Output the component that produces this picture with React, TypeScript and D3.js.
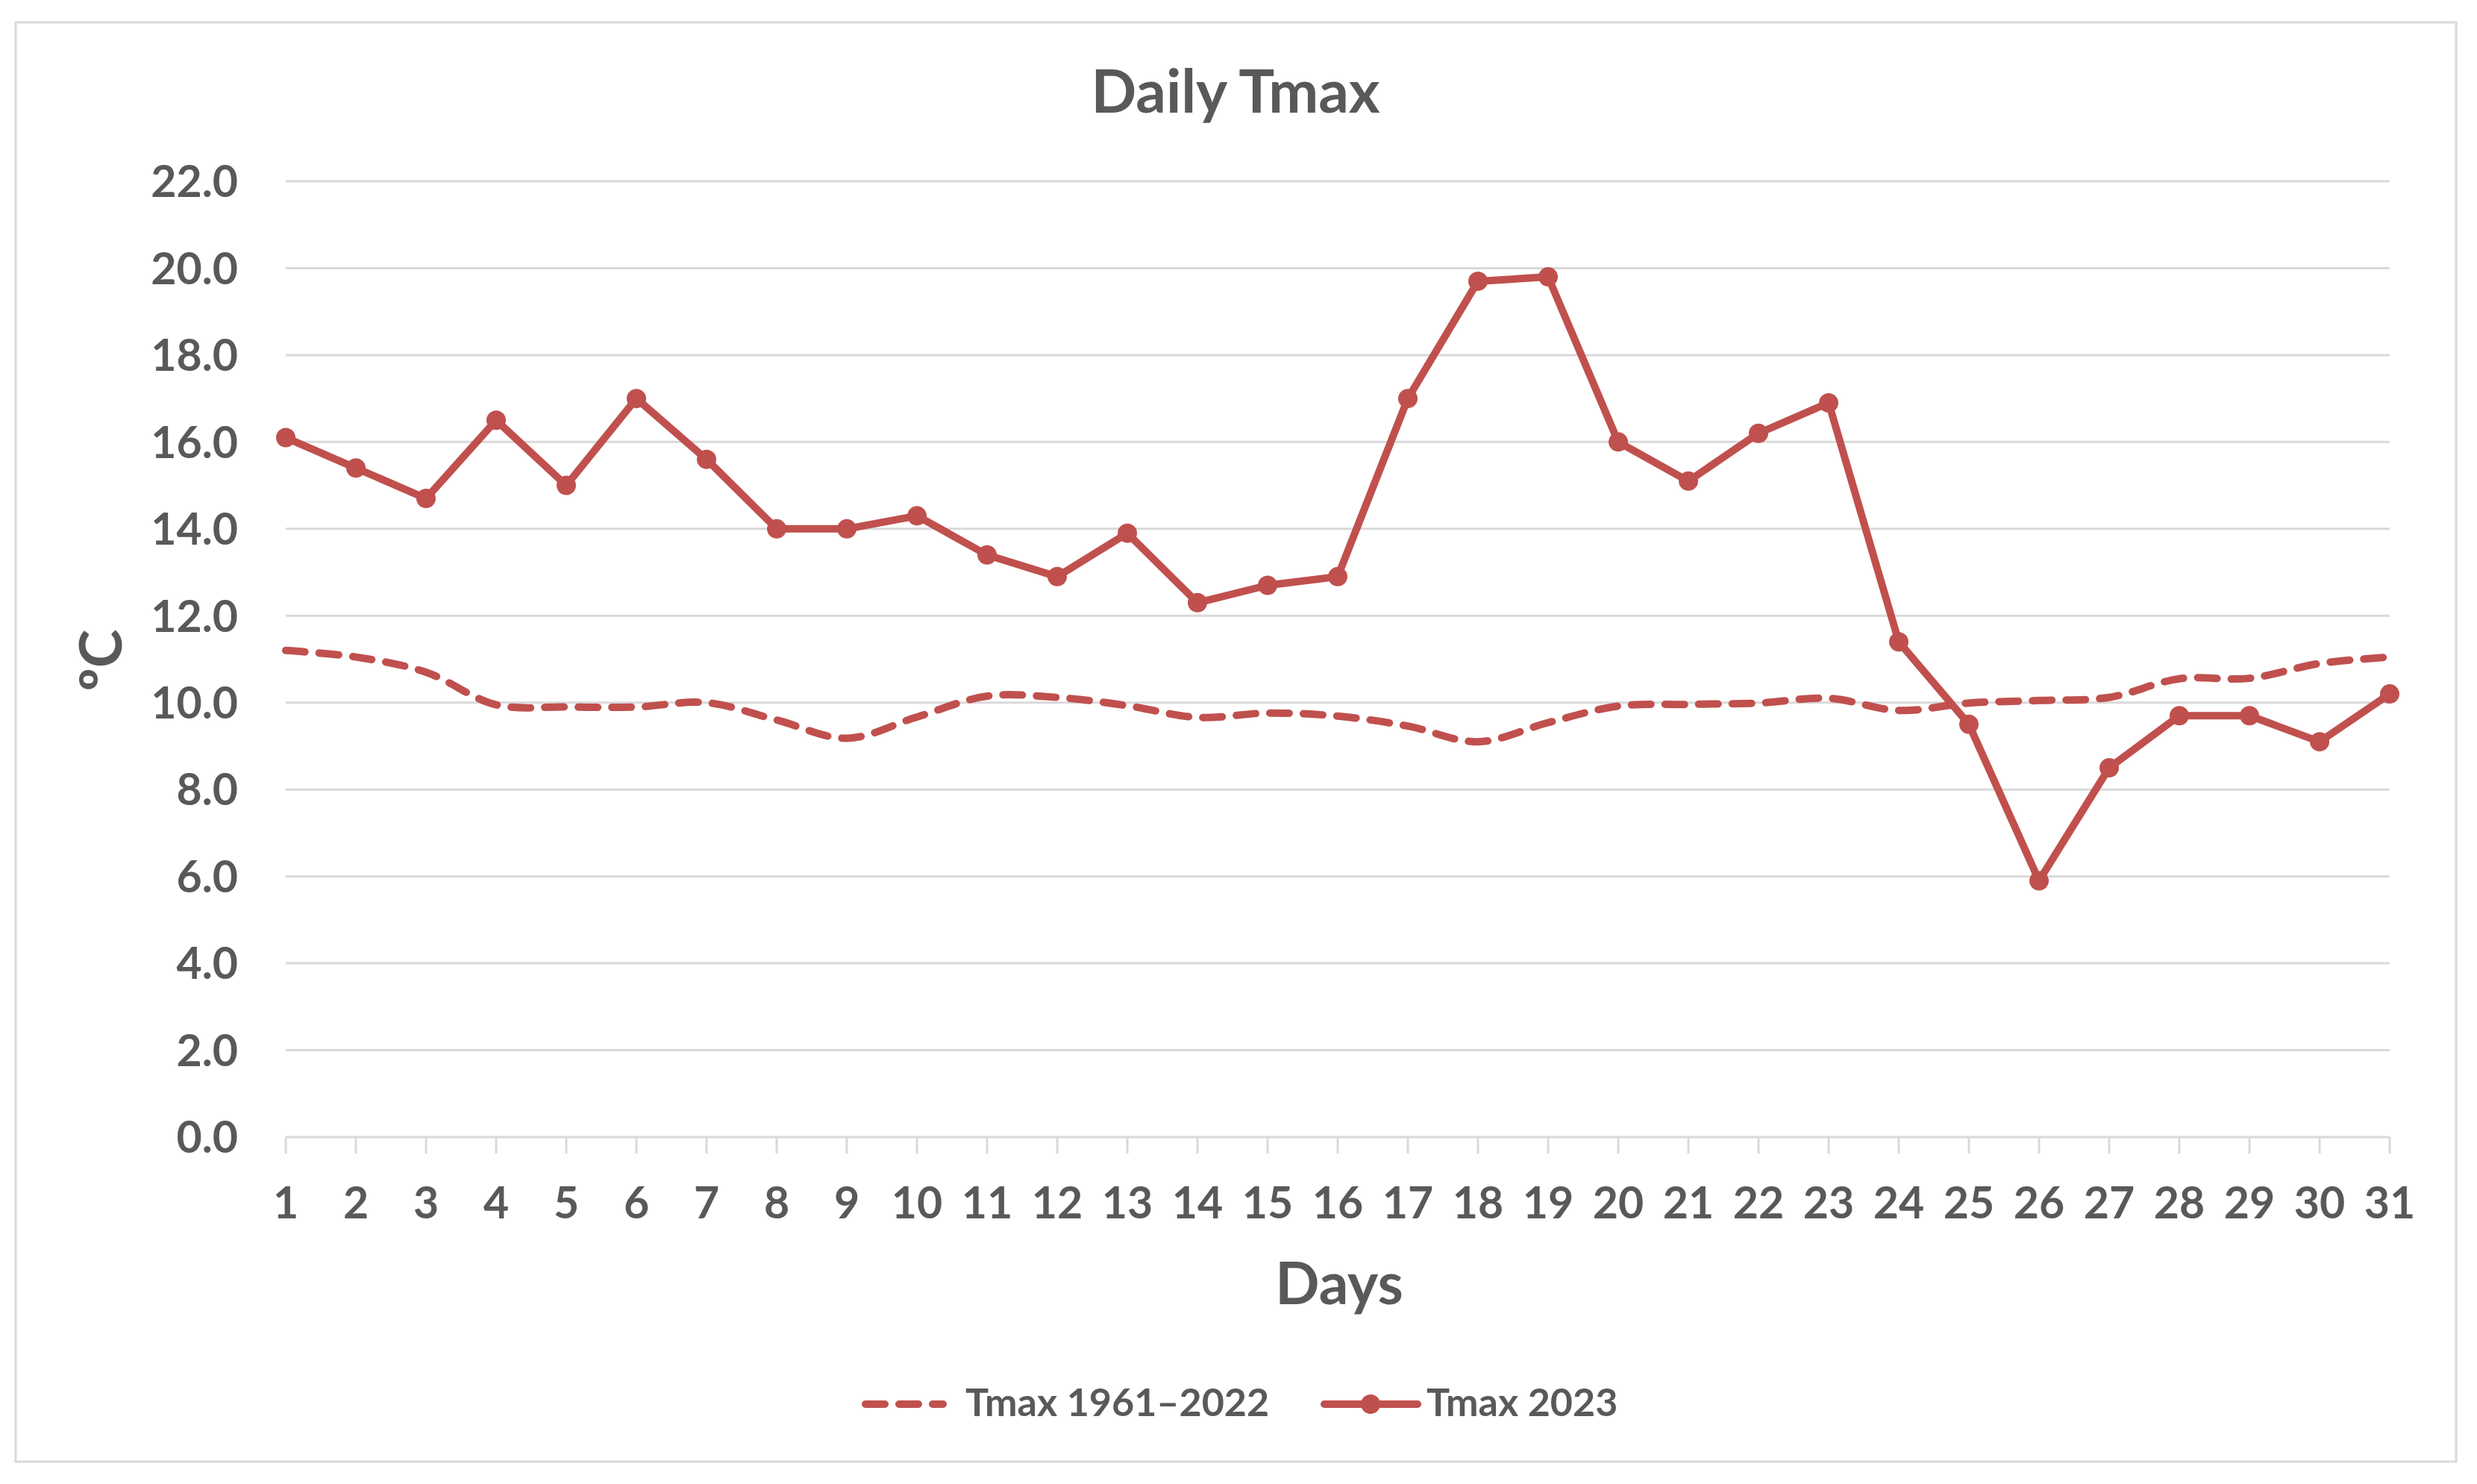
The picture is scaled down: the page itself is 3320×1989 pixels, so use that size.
import React from "react";
import * as d3 from "d3";

const days: number[] = Array.from({ length: 31 }, (_, i) => i + 1);
const tmax2023: number[] = [
  16.1, 15.4, 14.7, 16.5, 15.0, 17.0, 15.6, 14.0, 14.0, 14.3, 13.4, 12.9, 13.9, 12.3, 12.7, 12.9,
  17.0, 19.7, 19.8, 16.0, 15.1, 16.2, 16.9, 11.4, 9.5, 5.9, 8.5, 9.7, 9.7, 9.1, 10.2,
];
const tmaxClim: number[] = [
  11.2, 11.05, 10.7, 9.95, 9.9, 9.9, 10.0, 9.6, 9.18, 9.67, 10.15, 10.12, 9.93, 9.66, 9.76, 9.69,
  9.46, 9.1, 9.54, 9.92, 9.96, 9.99, 10.1, 9.82, 9.99, 10.05, 10.12, 10.55, 10.56, 10.9, 11.05,
];
const yTicks: number[] = [0, 2, 4, 6, 8, 10, 12, 14, 16, 18, 20, 22];
const titleText = "Daily Tmax";
const xTitle = "Days";
const yTitle = "ºC";
const legendLabels = ["Tmax 1961–2022", "Tmax 2023"];

const W = 3320;
const H = 1989;
const RED = "#C0504D";
const TEXT = "#595959";
const GRID = "#D9D9D9";
const FONT = "Lato, 'Open Sans', sans-serif";

export default function App() {
  const x = d3.scaleLinear().domain([1, 31]).range([383, 3203]);
  const y = d3.scaleLinear().domain([0, 22]).range([1524, 243]);

  const solidLine = d3
    .line<number>()
    .x((_, i) => x(days[i]))
    .y((d) => y(d));
  const smoothLine = d3
    .line<number>()
    .x((_, i) => x(days[i]))
    .y((d) => y(d))
    .curve(d3.curveCatmullRom.alpha(0.5));

  return (
    <svg
      width={W}
      height={H}
      style={{ position: "absolute", left: 0, top: 0, background: "#fff" }}
      fontFamily={FONT}
    >
      <rect x={0} y={0} width={W} height={H} fill="#fff" />
      <rect x={21} y={30} width={3271} height={1929} fill="none" stroke={GRID} strokeWidth={3} />

      <text x={1656} y={151} textAnchor="middle" fontSize={80} fontWeight={700} fill={TEXT}>
        {titleText}
      </text>

      {yTicks.filter((t) => t > 0).map((t) => (
        <line key={t} x1={x(1)} x2={x(31)} y1={y(t)} y2={y(t)} stroke={GRID} strokeWidth={3} />
      ))}
      {yTicks.map((t) => (
        <text
          key={"yl" + t}
          x={319}
          y={y(t)}
          dy="0.36em"
          textAnchor="end"
          fontSize={59}
          fontWeight={700}
          fill={TEXT}
        >
          {t.toFixed(1)}
        </text>
      ))}

      <line x1={x(1)} x2={x(31)} y1={y(0)} y2={y(0)} stroke={GRID} strokeWidth={3} />
      {days.map((d) => (
        <g key={"xt" + d}>
          <line x1={x(d)} x2={x(d)} y1={y(0)} y2={y(0) + 22} stroke={GRID} strokeWidth={3} />
          <text x={x(d)} y={1633} textAnchor="middle" fontSize={59} fontWeight={700} fill={TEXT}>
            {d}
          </text>
        </g>
      ))}

      <text x={1795} y={1748} textAnchor="middle" fontSize={78} fontWeight={700} fill={TEXT}>
        {xTitle}
      </text>
      <text
        transform="translate(163,885) rotate(-90)"
        textAnchor="middle"
        fontSize={78}
        fontWeight={700}
        fill={TEXT}
      >
        {yTitle}
      </text>

      <path
        d={smoothLine(tmaxClim) || ""}
        fill="none"
        stroke={RED}
        strokeWidth={10}
        strokeDasharray="26 19"
        strokeLinecap="round"
        strokeLinejoin="round"
      />
      <path
        d={solidLine(tmax2023) || ""}
        fill="none"
        stroke={RED}
        strokeWidth={10}
        strokeLinejoin="round"
      />
      {tmax2023.map((v, i) => (
        <circle key={"m" + i} cx={x(days[i])} cy={y(v)} r={13} fill={RED} />
      ))}

      <line
        x1={1160}
        x2={1264}
        y1={1882}
        y2={1882}
        stroke={RED}
        strokeWidth={10}
        strokeDasharray="26 19"
        strokeLinecap="round"
      />
      <text x={1294} y={1898} fontSize={52} fontWeight={700} fill={TEXT}>
        {legendLabels[0]}
      </text>
      <line x1={1775} x2={1900} y1={1882} y2={1882} stroke={RED} strokeWidth={10} strokeLinecap="round" />
      <circle cx={1837} cy={1882} r={13} fill={RED} />
      <text x={1912} y={1898} fontSize={52} fontWeight={700} fill={TEXT}>
        {legendLabels[1]}
      </text>
    </svg>
  );
}
